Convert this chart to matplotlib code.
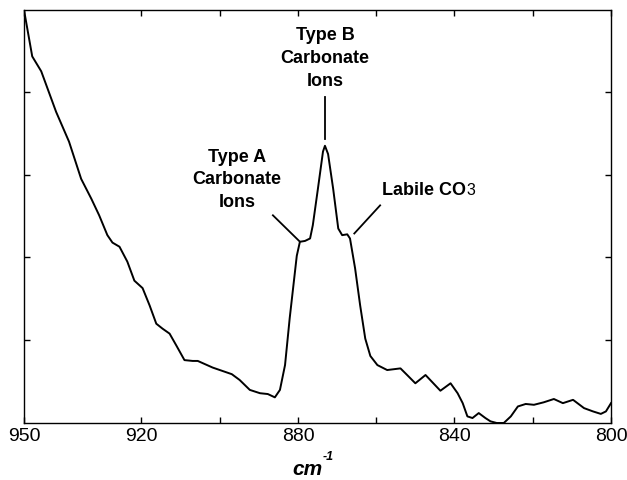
import matplotlib
matplotlib.use('Agg')
import matplotlib.pyplot as plt

# spectrum (wavenumber in cm-1, arbitrary absorbance)
wavenumber = [950.0, 947.9, 945.6, 941.8, 938.5, 935.4, 932.8, 930.8, 928.7, 927.4,
              925.6, 923.6, 921.8, 919.7, 917.9, 916.2, 914.6, 912.8, 911.0, 909.0,
              906.9, 905.6, 901.8, 896.9, 894.9, 892.3, 889.7, 887.7, 885.9, 884.6,
              883.3, 882.1, 880.3, 879.5, 878.2, 876.9, 876.2, 874.9, 873.6, 873.1,
              872.3, 871.0, 869.7, 868.7, 867.4, 866.7, 865.4, 864.1, 862.8, 861.5,
              859.7, 857.2, 853.8, 852.1, 850.0, 847.4, 845.4, 843.6, 841.0, 839.2,
              837.9, 836.7, 835.4, 833.8, 832.1, 830.8, 829.2, 827.4, 825.6, 823.8,
              821.8, 819.7, 817.2, 814.6, 812.3, 809.7, 806.9, 804.6, 802.6, 801.3,
              800.0]
absorbance = [4.99, 4.43, 4.25, 3.76, 3.40, 2.95, 2.71, 2.51, 2.27, 2.18,
              2.13, 1.95, 1.72, 1.63, 1.42, 1.20, 1.14, 1.08, 0.93, 0.76,
              0.75, 0.75, 0.67, 0.59, 0.52, 0.40, 0.36, 0.35, 0.31, 0.40,
              0.70, 1.27, 2.02, 2.19, 2.20, 2.23, 2.39, 2.83, 3.28, 3.35,
              3.25, 2.83, 2.35, 2.27, 2.28, 2.23, 1.87, 1.42, 1.02, 0.81,
              0.70, 0.64, 0.66, 0.58, 0.48, 0.58, 0.48, 0.39, 0.48, 0.36,
              0.24, 0.08, 0.06, 0.12, 0.06, 0.02, 0.00, 0.00, 0.08, 0.20,
              0.23, 0.22, 0.25, 0.29, 0.24, 0.28, 0.18, 0.14, 0.11, 0.14,
              0.24]

xticks = [950, 920, 900, 880, 860, 840, 820, 800]
xticklabels = ['950', '920', '', '880', '', '840', '', '800']
yticks = [1, 2, 3, 4]

# peak labels: text, text position, leader line (x0, y0, x1, y1)
labels = ['Type B\nCarbonate\nIons', 'Type A\nCarbonate\nIons']
label_pos = [(873.1, 4.42), (895.6, 2.95)]
leaders = [(873.1, 3.94, 873.1, 3.43), (886.4, 2.51, 879.7, 2.20), (859.0, 2.63, 865.6, 2.29)]

font = ['Liberation Sans', 'DejaVu Sans']

fig = plt.figure(figsize=(6.27, 4.81), dpi=100)
ax = fig.add_axes([0.0383, 0.1185, 0.9362, 0.8585])

ax.plot(wavenumber, absorbance, color='black', linewidth=1.4)

ax.set_xlim(950, 800)
ax.set_ylim(0, 4.99)
ax.set_xticks(xticks)
ax.set_xticklabels(xticklabels, family=font, fontsize=14)
ax.set_yticks(yticks)
ax.set_yticklabels([])
ax.tick_params(axis='both', direction='in', length=4.5, width=1, top=True, right=True, pad=3)
for s in ax.spines.values():
    s.set_linewidth(1.0)

for txt, (tx, ty) in zip(labels, label_pos):
    ax.text(tx, ty, txt, ha='center', va='center', family=font, fontweight='heavy',
            fontsize=13, linespacing=1.45)

for x0, y0, x1, y1 in leaders:
    ax.plot([x0, x1], [y0, y1], color='black', linewidth=1.3)

lab = ax.text(858.5, 2.82, 'Labile CO', ha='left', va='center', family=font,
              fontweight='heavy', fontsize=13)
ax.annotate('3', xy=(1, 0), xycoords=lab, xytext=(0.5, 1), textcoords='offset points',
            ha='left', va='bottom', family=font, fontsize=11.5)

fig.text(0.49, 0.012, 'cm', ha='center', va='baseline', family=font,
         fontweight='bold', style='italic', fontsize=15)
fig.text(0.514, 0.043, '-1', ha='left', va='baseline', family=font,
         fontweight='bold', style='italic', fontsize=9)

fig.savefig('out.png', dpi=100)
